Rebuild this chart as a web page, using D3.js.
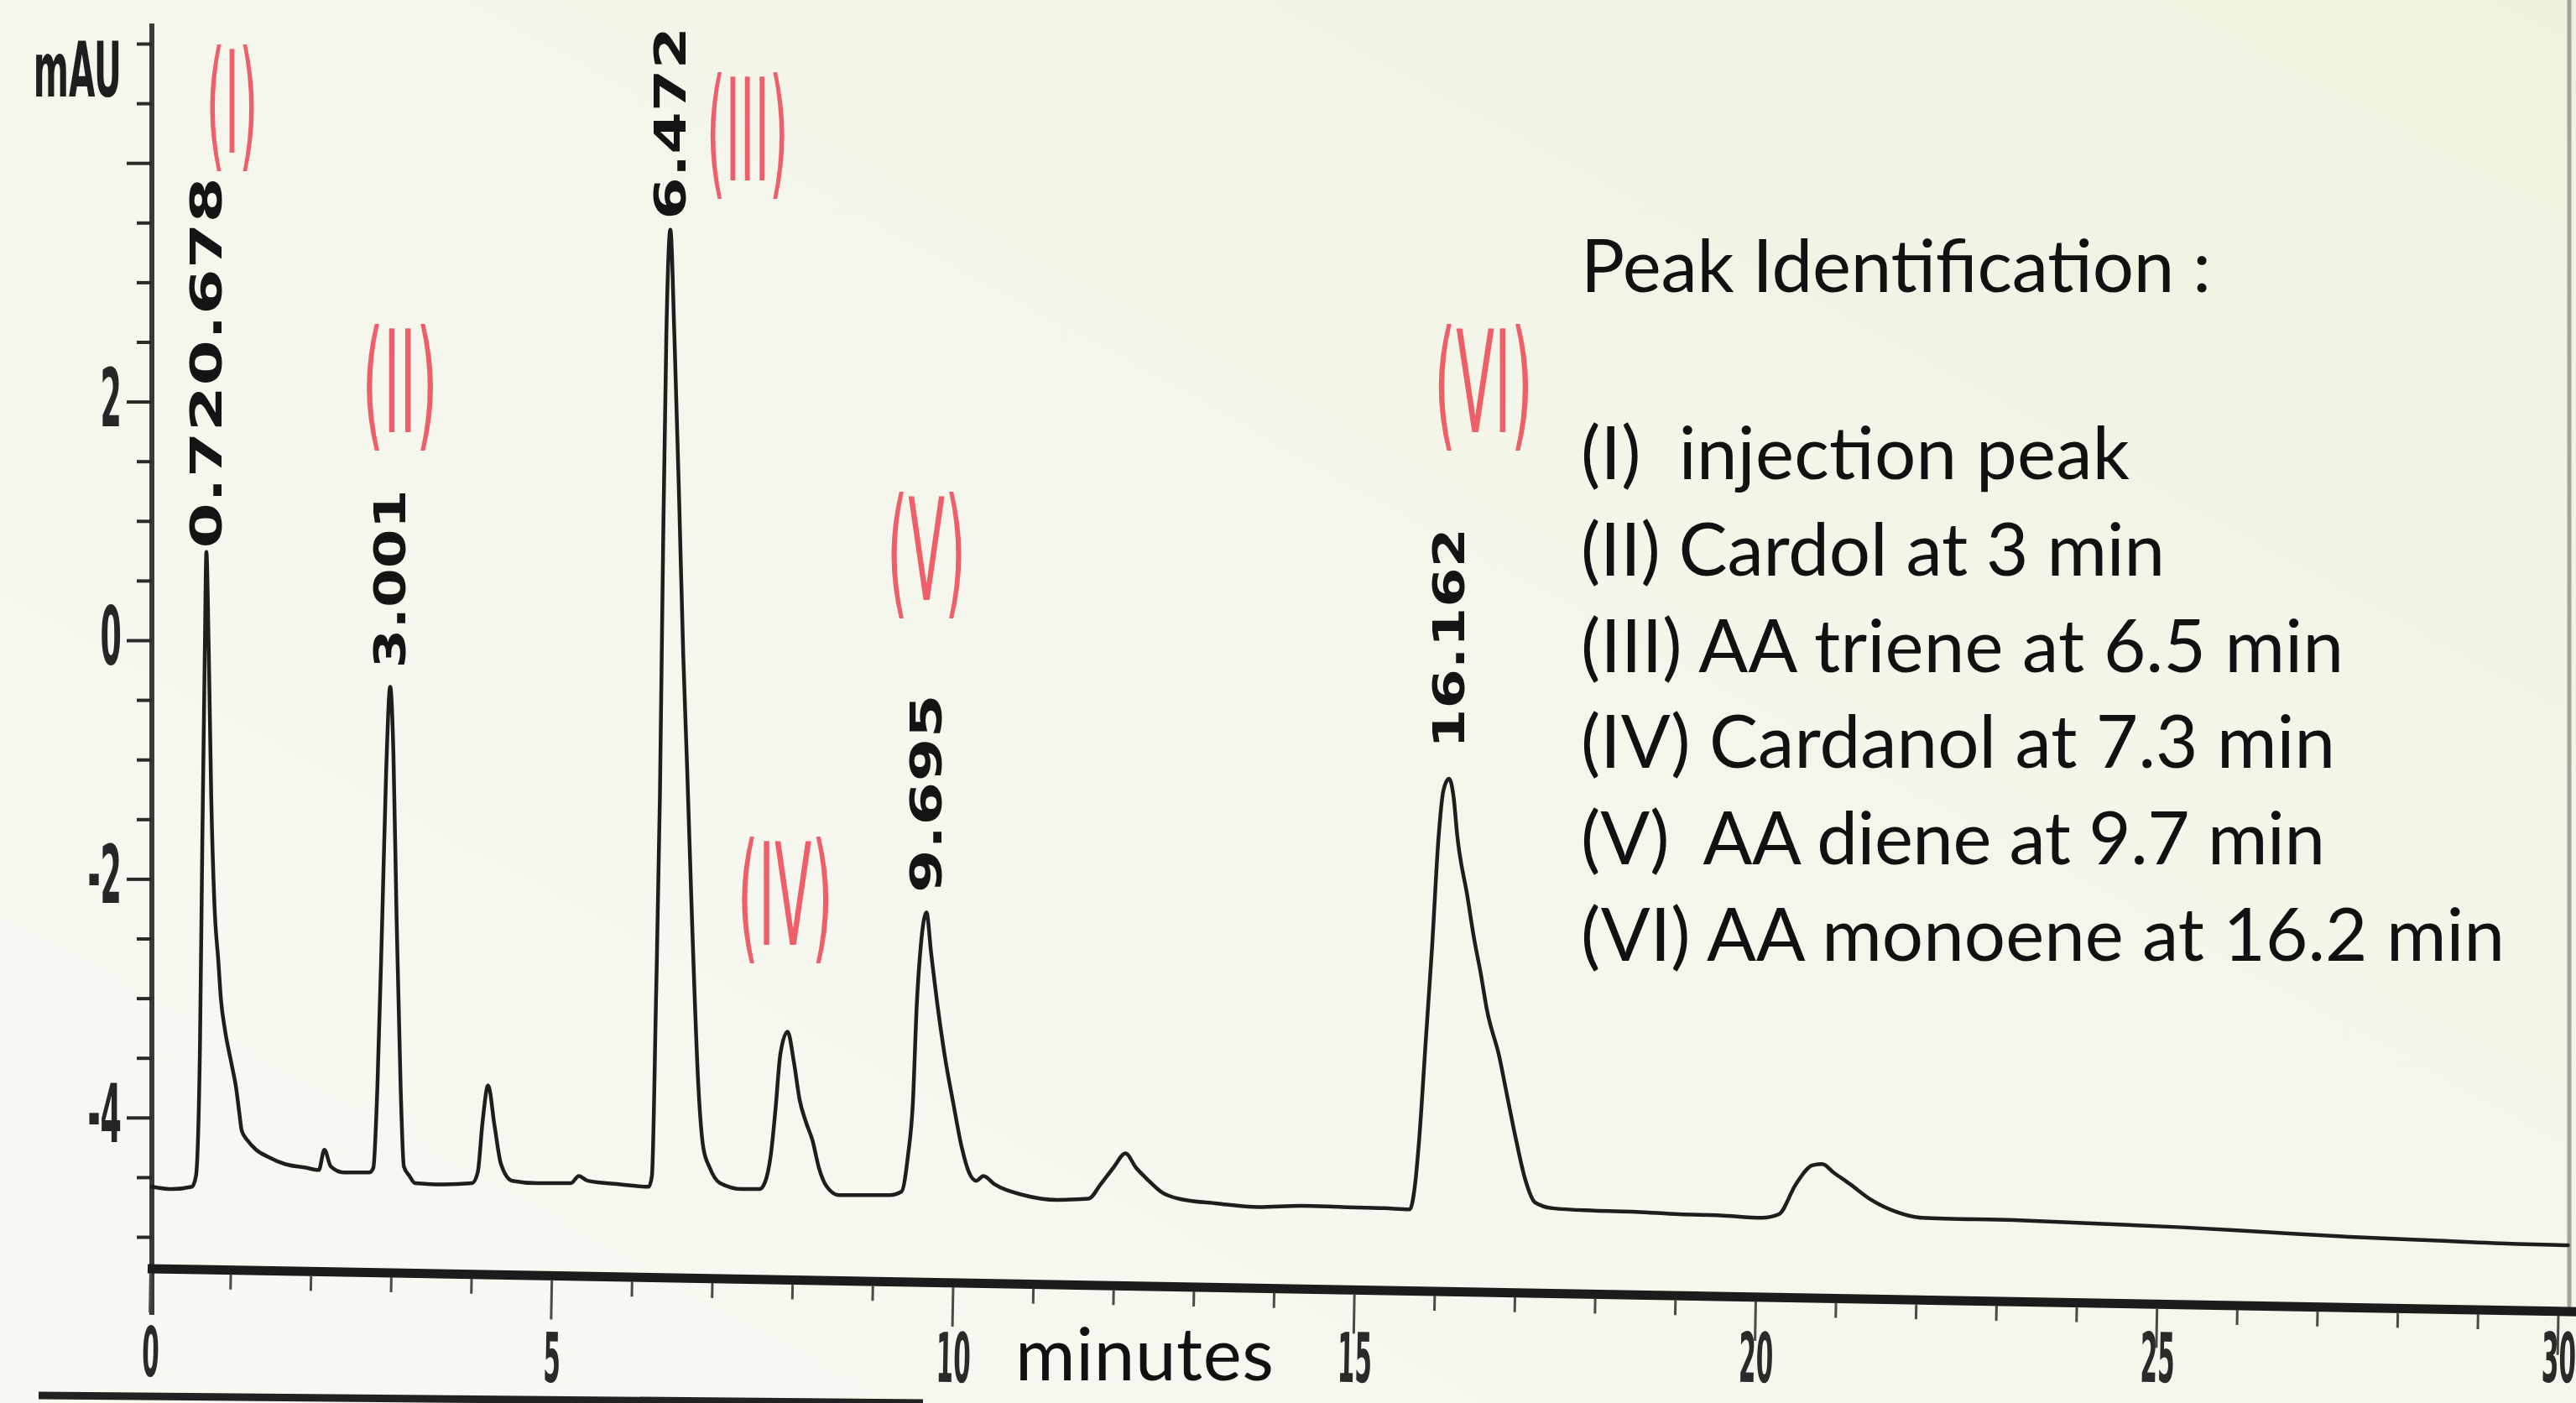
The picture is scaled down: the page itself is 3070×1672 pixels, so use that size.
<!DOCTYPE html>
<html><head><meta charset="utf-8">
<script src="https://cdn.jsdelivr.net/npm/d3@7"></script>
<style>html,body{margin:0;padding:0;overflow:hidden;background:#f5f7ee}</style>
</head><body>
<svg id="chart" width="3070" height="1672"></svg>
<script>
// ---------------- DATA ----------------
// chromatogram trace: [time (min), signal (mAU)]
const chromatogram = [
 [0.02,-4.58],[0.27,-4.60],[0.52,-4.58],[0.57,-4.49],[0.62,-3.40],[0.65,-1.65],[0.68,-0.11],[0.70,0.74],[0.73,-0.11],[0.76,-1.30],[0.80,-2.21],[0.85,-2.70],[0.88,-3.00],[0.93,-3.26],[1.01,-3.54],[1.07,-3.75],[1.11,-3.96],[1.14,-4.11],[1.21,-4.19],[1.32,-4.27],[1.47,-4.33],[1.68,-4.39],[1.94,-4.42],[2.10,-4.44],[2.17,-4.27],[2.25,-4.41],[2.41,-4.46],[2.73,-4.46],
 [2.78,-4.42],[2.83,-3.75],[2.89,-2.35],[2.94,-1.09],[2.99,-0.39],[3.03,-0.95],[3.07,-2.35],[3.12,-3.75],[3.16,-4.41],[3.23,-4.49],[3.30,-4.55],[3.67,-4.56],[4.01,-4.55],
 [4.08,-4.46],[4.14,-4.04],[4.21,-3.73],[4.29,-4.07],[4.37,-4.39],[4.51,-4.53],[4.82,-4.55],[5.24,-4.55],[5.34,-4.49],[5.45,-4.53],[5.86,-4.56],[6.21,-4.58],
 [6.25,-4.49],[6.30,-3.05],[6.35,-1.30],[6.39,0.81],[6.43,2.56],[6.48,3.44],[6.53,2.56],[6.59,1.16],[6.64,-0.11],[6.69,-1.09],[6.75,-2.35],[6.83,-3.75],[6.89,-4.25],[6.97,-4.42],[7.10,-4.55],[7.38,-4.60],[7.59,-4.60],
 [7.66,-4.54],[7.73,-4.32],[7.79,-3.93],[7.85,-3.47],[7.94,-3.28],[8.02,-3.54],[8.09,-3.85],[8.17,-4.04],[8.25,-4.19],[8.33,-4.42],[8.43,-4.58],[8.58,-4.65],[8.90,-4.65],[9.21,-4.65],
 [9.36,-4.62],[9.44,-4.32],[9.50,-3.89],[9.55,-3.05],[9.60,-2.56],[9.67,-2.28],[9.73,-2.63],[9.82,-3.12],[9.90,-3.49],[10.01,-3.90],[10.11,-4.25],[10.20,-4.46],[10.29,-4.53],[10.38,-4.49],[10.52,-4.56],[10.88,-4.65],[11.30,-4.69],[11.69,-4.68],
 [11.84,-4.56],[12.00,-4.42],[12.15,-4.30],[12.28,-4.42],[12.41,-4.51],[12.61,-4.63],[12.81,-4.68],[13.29,-4.72],[13.81,-4.75],[14.33,-4.74],[14.85,-4.75],[15.38,-4.76],[15.69,-4.77],
 [15.75,-4.60],[15.81,-4.17],[15.89,-3.36],[15.97,-2.56],[16.05,-1.65],[16.11,-1.26],[16.18,-1.16],[16.24,-1.33],[16.28,-1.62],[16.41,-2.15],[16.49,-2.49],[16.58,-2.81],[16.65,-3.09],[16.81,-3.50],[16.89,-3.77],[17.01,-4.17],[17.13,-4.52],[17.25,-4.71],[17.47,-4.76],[17.99,-4.78],[18.51,-4.79],[19.04,-4.81],[19.56,-4.82],[20.08,-4.84],
 [20.29,-4.81],[20.50,-4.56],[20.71,-4.40],[20.83,-4.39],[20.97,-4.46],[21.18,-4.56],[21.44,-4.69],[21.75,-4.79],[22.07,-4.84],[23.22,-4.86],[24.26,-4.89],[25.31,-4.92],[26.35,-4.96],[27.40,-5.00],[28.44,-5.03],[29.49,-5.06],[30.12,-5.07]
];
// retention-time labels printed at peak apexes
const rtTimes  = [0.70, 2.99, 6.48, 9.67, 16.18];
const rtApex   = [0.74, -0.39, 3.44, -2.28, -1.16];
const rtLabels = ["0.720.678", "3.001", "6.472", "9.695", "16.162"];
// red peak identifiers and where they sit (time, mAU of top edge)
const peakIds   = ["(I)", "(II)", "(III)", "(IV)", "(V)", "(VI)"];
const peakIdAtT = [1.02, 3.11, 7.44, 7.91, 9.67, 16.61];
const peakIdAtV = [4.95, 2.61, 4.72, -1.69, 1.20, 2.61];
// axes
const xMajorTicks = [0, 5, 10, 15, 20, 25, 30];
const xMinorTicks = d3.range(0, 31).filter(d => d % 5 !== 0);
const yMajorTicks = [-4, -2, 0, 2, 4];
const yMinorTicks = [-5, -4.5, -3.5, -3, -2.5, -1.5, -1, -0.5, 0.5, 1, 1.5, 2.5, 3, 3.5, 4.5, 5];
const yTickLabels = [2, 0, -2, -4];
const xTitle = "minutes";
const yTitle = "mAU";
// legend
const legendTitle = "Peak Identification :";
const legendLines = [
 "(I)  injection peak",
 "(II) Cardol at 3 min",
 "(III) AA triene at 6.5 min",
 "(IV) Cardanol at 7.3 min",
 "(V)  AA diene at 9.7 min",
 "(VI) AA monoene at 16.2 min"
];

// ---------------- LAYOUT / STYLE ----------------
const W = 3070, H = 1672;
const layout = {
  xRange: [179, 3049], yZero: 763, yPerUnit: 142.2,
  xAxisY: 1512, xAxisDrop: 51, xAxisRun: 2882,
  rtLen: [443, 213, 230, 237, 263], rtGap: [4, 22, 12, 23, 36],
  idWidths: [62, 90, 98, 114, 94, 118],
  legendX: 1884, legendTitleY: 348, legendY0: 571, legendDy: 114.8,
  legendTitleLen: 751, legendLens: [654, 696, 909, 899, 887, 1101]
};

const svg = d3.select('#chart');
const defs = svg.append('defs');
const grad = defs.append('linearGradient').attr('id','bg').attr('x1',0).attr('y1',1).attr('x2',1).attr('y2',0);
grad.append('stop').attr('offset',0).attr('stop-color','#f8f9f3');
grad.append('stop').attr('offset',0.55).attr('stop-color','#f4f6eb');
grad.append('stop').attr('offset',1).attr('stop-color','#eef2de');
svg.append('rect').attr('width',W).attr('height',H).attr('fill','url(#bg)');

const x = d3.scaleLinear().domain([0, 30]).range(layout.xRange);
const y = d3.scaleLinear().domain([-5, 5]).range([layout.yZero + 5*layout.yPerUnit, layout.yZero - 5*layout.yPerUnit]);

// helper: squeeze a text horizontally to a target ink width using a transform
function squeeze(sel, cx, baseY, targetW) {
  const nat = sel.node().getComputedTextLength() || targetW;
  sel.attr('x', 0).attr('y', 0).attr('text-anchor', 'middle')
     .attr('transform', `translate(${cx},${baseY}) scale(${targetW / nat},1)`);
}

// right frame edge & bottom scan edge
svg.append('line').attr('x1',3062).attr('x2',3062).attr('y1',0).attr('y2',1560)
  .attr('stroke','#a3a59c').attr('stroke-width',5);
svg.append('line').attr('x1',46).attr('y1',1663).attr('x2',1100).attr('y2',1672)
  .attr('stroke','#222').attr('stroke-width',9);

// ---------- Y axis ----------
const yAxisX = x(0) + 2;
const gy = svg.append('g').attr('transform', `translate(${yAxisX},0)`);
gy.append('line').attr('x1',0).attr('x2',0).attr('y1',28).attr('y2',1567)
  .attr('stroke','#3a3a3a').attr('stroke-width',6);
gy.append('g').call(d3.axisLeft(y).tickValues(yMinorTicks).tickSize(18).tickFormat(''))
  .call(g => { g.select('.domain').remove(); g.selectAll('line').attr('stroke','#2a2a2a').attr('stroke-width',4); });
gy.append('g').call(d3.axisLeft(y).tickValues(yMajorTicks).tickSize(30).tickFormat(''))
  .call(g => { g.select('.domain').remove(); g.selectAll('line').attr('stroke','#2a2a2a').attr('stroke-width',4); });

svg.selectAll('text.ylab').data(yTickLabels).join('text').attr('class','ylab')
  .attr('transform', d => `translate(145,${y(d) + 29}) scale(0.38,1)`)
  .attr('text-anchor','end').attr('font-family','DejaVu Sans').attr('font-weight','bold')
  .attr('font-size',96).attr('fill','#262626').text(d => String(d));
svg.append('text').attr('transform','translate(145,115) scale(0.45,1)')
  .attr('text-anchor','end').attr('font-family','DejaVu Sans').attr('font-weight','bold')
  .attr('font-size',90).attr('fill','#1e1e1e').text(yTitle);

// ---------- X axis (slightly tilted as in the scan) ----------
const ang = Math.atan2(layout.xAxisDrop, layout.xAxisRun) * 180 / Math.PI;
const slope = layout.xAxisDrop / layout.xAxisRun;
const gx = svg.append('g').attr('transform', `translate(0,${layout.xAxisY}) rotate(${ang},${x(0)},0)`);
gx.append('line').attr('x1', x(0) - 3).attr('x2', W + 20).attr('y1', 0).attr('y2', 0)
  .attr('stroke','#1c1c1c').attr('stroke-width', 11);
gx.append('g').attr('transform','translate(0,5)')
  .call(d3.axisBottom(x).tickValues(xMinorTicks).tickSize(18).tickFormat(''))
  .call(g => { g.select('.domain').remove(); g.selectAll('line').attr('stroke','#4a4a4a').attr('stroke-width',3); });
gx.append('g').attr('transform','translate(0,5)')
  .call(d3.axisBottom(x).tickValues(xMajorTicks).tickSize(47).tickFormat(''))
  .call(g => { g.select('.domain').remove(); g.selectAll('line').attr('stroke','#4a4a4a').attr('stroke-width',3); });
// tick labels: follow the tilt but stay inside the picture
svg.selectAll('text.xlab').data(xMajorTicks).join('text').attr('class','xlab')
  .attr('transform', d => {
    const axY = layout.xAxisY + (x(d) - x(0)) * slope;
    const by = Math.min(axY + 128, 1647);
    return `translate(${x(d)},${by}) rotate(${ang}) scale(0.36,1)`;
  })
  .attr('text-anchor','middle').attr('font-family','DejaVu Sans').attr('font-weight','bold')
  .attr('font-size',82).attr('fill','#2a2a2a').text(d => String(d));

svg.append('text').attr('x',1210).attr('y',1645)
  .attr('font-family','Lato').attr('font-size',87).attr('fill','#111')
  .attr('textLength',308).attr('lengthAdjust','spacing').text(xTitle);

// ---------- Trace ----------
const line = d3.line().x(d => x(d[0])).y(d => y(d[1])).curve(d3.curveMonotoneX);
svg.append('path').datum(chromatogram).attr('d', line)
  .attr('fill','none').attr('stroke','#1e1e1e').attr('stroke-width',4.5)
  .attr('stroke-linejoin','round').attr('stroke-linecap','round');

// ---------- Retention time labels (rotated) ----------
rtLabels.forEach((lab, i) => {
  const px = x(rtTimes[i]) + 18, py = y(rtApex[i]) - layout.rtGap[i];
  const t = svg.append('text').attr('font-family','DejaVu Sans').attr('font-weight','bold')
    .attr('font-size',51).attr('fill','#141414').text(lab);
  const nat = t.node().getComputedTextLength() || layout.rtLen[i];
  t.attr('x',0).attr('y',0)
   .attr('transform', `translate(${px},${py}) rotate(-90) scale(${layout.rtLen[i] / nat},1)`);
});

// ---------- Red peak identifiers ----------
peakIds.forEach((lab, i) => {
  const t = svg.append('text').attr('font-family','DejaVu Sans').attr('font-size',169)
    .attr('fill','#ee5f69').text(lab);
  squeeze(t, x(peakIdAtT[i]), y(peakIdAtV[i]) + 123, layout.idWidths[i]);
});

// ---------- Legend ----------
const lg = svg.append('g').attr('font-family','Lato').attr('font-size',87).attr('fill','#111');
lg.append('text').attr('x', layout.legendX).attr('y', layout.legendTitleY)
  .attr('textLength', layout.legendTitleLen).attr('lengthAdjust','spacing')
  .style('white-space','pre').text(legendTitle);
lg.selectAll('text.li').data(legendLines).join('text').attr('class','li')
  .attr('x', layout.legendX).attr('y', (d,i) => layout.legendY0 + i*layout.legendDy)
  .attr('textLength', (d,i) => layout.legendLens[i]).attr('lengthAdjust','spacing')
  .style('white-space','pre').text(d => d);
</script>
</body></html>
